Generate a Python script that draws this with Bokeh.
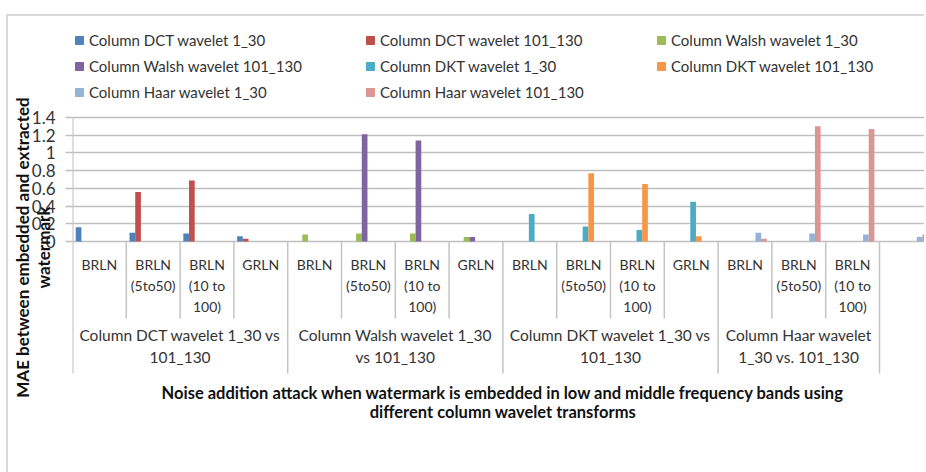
from bokeh.plotting import figure
from bokeh.models import (Range1d, FixedTicker, CustomJSTickFormatter, Legend, LegendItem,
                          ColumnDataSource)
from bokeh.core.properties import value
from bokeh.embed import file_html
from bokeh.resources import INLINE

# ---------------- data ----------------
series = ["Column DCT wavelet 1_30", "Column DCT wavelet 101_130", "Column Walsh wavelet 1_30",
          "Column Walsh wavelet 101_130", "Column DKT wavelet 1_30", "Column DKT wavelet 101_130",
          "Column Haar wavelet 1_30", "Column Haar wavelet 101_130"]
colors = ["#4F81BD", "#C0504D", "#9BBB59", "#8064A2", "#4BACC6", "#F79646", "#95B3D7", "#D99694"]

subcats = ["BRLN", "BRLN\n(5to50)", "BRLN\n(10 to\n100)", "GRLN",
           "BRLN", "BRLN\n(5to50)", "BRLN\n(10 to\n100)", "GRLN",
           "BRLN", "BRLN\n(5to50)", "BRLN\n(10 to\n100)", "GRLN",
           "BRLN", "BRLN\n(5to50)", "BRLN\n(10 to\n100)", ""]
groups = ["Column DCT wavelet 1_30 vs\n101_130", "Column Walsh wavelet 1_30\nvs 101_130",
          "Column DKT wavelet 1_30 vs\n101_130", "Column Haar wavelet\n1_30 vs. 101_130", ""]
group_sizes = [4, 4, 4, 3, 1]

dct_1_30 = [0.16, 0.10, 0.09, 0.06, 0, 0, 0, 0, 0, 0, 0, 0, 0, 0, 0, 0]
dct_101_130 = [0, 0.56, 0.69, 0.03, 0, 0, 0, 0, 0, 0, 0, 0, 0, 0, 0, 0]
walsh_1_30 = [0, 0, 0, 0, 0.08, 0.09, 0.09, 0.05, 0, 0, 0, 0, 0, 0, 0, 0]
walsh_101_130 = [0, 0, 0, 0, 0, 1.21, 1.14, 0.05, 0, 0, 0, 0, 0, 0, 0, 0]
dkt_1_30 = [0, 0, 0, 0, 0, 0, 0, 0, 0.31, 0.17, 0.13, 0.45, 0, 0, 0, 0]
dkt_101_130 = [0, 0, 0, 0, 0, 0, 0, 0, 0, 0.77, 0.65, 0.06, 0, 0, 0, 0]
haar_1_30 = [0, 0, 0, 0, 0, 0, 0, 0, 0, 0, 0, 0, 0.10, 0.09, 0.08, 0.05]
haar_101_130 = [0, 0, 0, 0, 0, 0, 0, 0, 0, 0, 0, 0, 0.03, 1.30, 1.27, 0.08]
all_values = [dct_1_30, dct_101_130, walsh_1_30, walsh_101_130,
              dkt_1_30, dkt_101_130, haar_1_30, haar_101_130]

y_ticks = [0, 0.2, 0.4, 0.6, 0.8, 1.0, 1.2, 1.4]
x_title = ("Noise addition attack when watermark is embedded in low and middle frequency bands using\n"
           "different column wavelet transforms")
y_title = "MAE between embedded and extracted\nwatermark"

# ---------------- layout constants ----------------
FONT = "Lato"
TXT = "#333333"
GRID = "#bfbfbf"
TABLE = "#c4c4c4"
px_per_unit = 88.57
cat_px = 53.8
n_cat = len(subcats)
bar_w = 0.1057
gap_left = 0.06

W, H = 924, 472
LEFT, TOP = 72, 22
p = figure(width=W, height=H, output_backend="svg", toolbar_location=None,
           x_axis_location=None, min_border_left=LEFT, min_border_right=0,
           min_border_top=TOP, min_border_bottom=0,
           x_range=Range1d(0, (W - LEFT) / cat_px),
           y_range=Range1d(-(H - TOP - 219) / px_per_unit, 219 / px_per_unit))
p.outline_line_color = None
p.background_fill_color = None
p.border_fill_color = None
# thin grey chart-area border (top and left edges), painted behind the transparent canvas
p.styles = {
    "background-color": "white",
    "background-image": "linear-gradient(#d9d9d9, #d9d9d9), linear-gradient(#d9d9d9, #d9d9d9)",
    "background-size": "100% 2px, 2px 100%",
    "background-position": "6px 14px, 6px 14px",
    "background-repeat": "no-repeat",
}

# y axis
ax = p.yaxis[0]
ax.ticker = FixedTicker(ticks=y_ticks)
ax.formatter = CustomJSTickFormatter(code="return String(Math.round(tick*10)/10)")
ax.axis_line_color = None
ax.major_tick_out = 7
ax.major_tick_in = 0
ax.major_tick_line_color = GRID
ax.major_tick_line_width = 1.5
ax.minor_tick_line_color = None
ax.major_label_standoff = 10
ax.major_label_text_font = FONT
ax.major_label_text_font_size = "17px"
ax.major_label_text_color = TXT
ax.axis_label = y_title
ax.axis_label_text_font = FONT
ax.axis_label_text_font_size = "17px"
ax.axis_label_text_font_style = "bold"
ax.axis_label_text_color = "#111111"
ax.axis_label_text_line_height = 1.0
ax.axis_label_standoff = -25

p.ygrid[0].ticker = FixedTicker(ticks=y_ticks)
p.ygrid[0].grid_line_color = GRID
p.ygrid[0].grid_line_width = 1.5
p.xgrid.visible = False

# bars
for k, (name, col, vals) in enumerate(zip(series, colors, all_values)):
    xs = [i + gap_left + bar_w * (k + 0.5) for i in range(n_cat)]
    src = ColumnDataSource(dict(x=xs, top=vals))
    p.vbar(x="x", top="top", bottom=0, width=bar_w, source=src,
           fill_color=col, line_color=None)

# category table: lines
bounds = [0]
for s in group_sizes:
    bounds.append(bounds[-1] + s)
short_x = [i for i in range(1, n_cat) if i not in bounds]
p.segment(x0=short_x, x1=short_x, y0=[0] * len(short_x), y1=[-77 / px_per_unit] * len(short_x),
          line_color=TABLE, line_width=1.5)
long_x = bounds[1:]
p.segment(x0=long_x, x1=long_x, y0=[0] * len(long_x), y1=[-132 / px_per_unit] * len(long_x),
          line_color=TABLE, line_width=1.5)
# left axis line continuing into the table
p.segment(x0=[0], x1=[0], y0=[1.4], y1=[-132 / px_per_unit], line_color=GRID, line_width=2)

# category labels
p.text(x=[i + 0.5 for i in range(n_cat)], y=[-14 / px_per_unit] * n_cat, text=subcats,
       text_font=value(FONT), text_font_size="14px", text_align="center",
       text_baseline="top", text_line_height=1.25, text_color=TXT)
gx = [(bounds[i] + bounds[i + 1]) / 2 for i in range(len(group_sizes))]
p.text(x=gx, y=[-84 / px_per_unit] * len(gx), text=groups,
       text_font=value(FONT), text_font_size="15.5px", text_align="center",
       text_baseline="top", text_line_height=1.25, text_color=TXT)

# x-axis title
p.text(x=[8], y=[-141 / px_per_unit], text=[x_title],
       text_font=value(FONT), text_font_size="16.5px", text_font_style="bold",
       text_align="center", text_baseline="top", text_line_height=0.95, text_color="#111111")

# legend (items ordered so that the column-major legend reads row by row)
items = []
for name, col in zip(series, colors):
    r = p.scatter(x=[-100], y=[0], marker="square", fill_color=col, line_color=col, size=8)
    items.append(LegendItem(label=name, renderers=[r]))
order = [0, 3, 6, 1, 4, 7, 2, 5]
legend = Legend(items=[items[i] for i in order], ncols=3, location=(-3, 370),
                glyph_width=20, glyph_height=20,
                label_height=20, label_width=265, label_standoff=-3, spacing=6, padding=0,
                margin=0, border_line_color=None, background_fill_alpha=0,
                label_text_font=FONT, label_text_font_size="15px", label_text_color=TXT)
p.add_layout(legend)

open("out.html", "w").write(file_html(p, INLINE))
